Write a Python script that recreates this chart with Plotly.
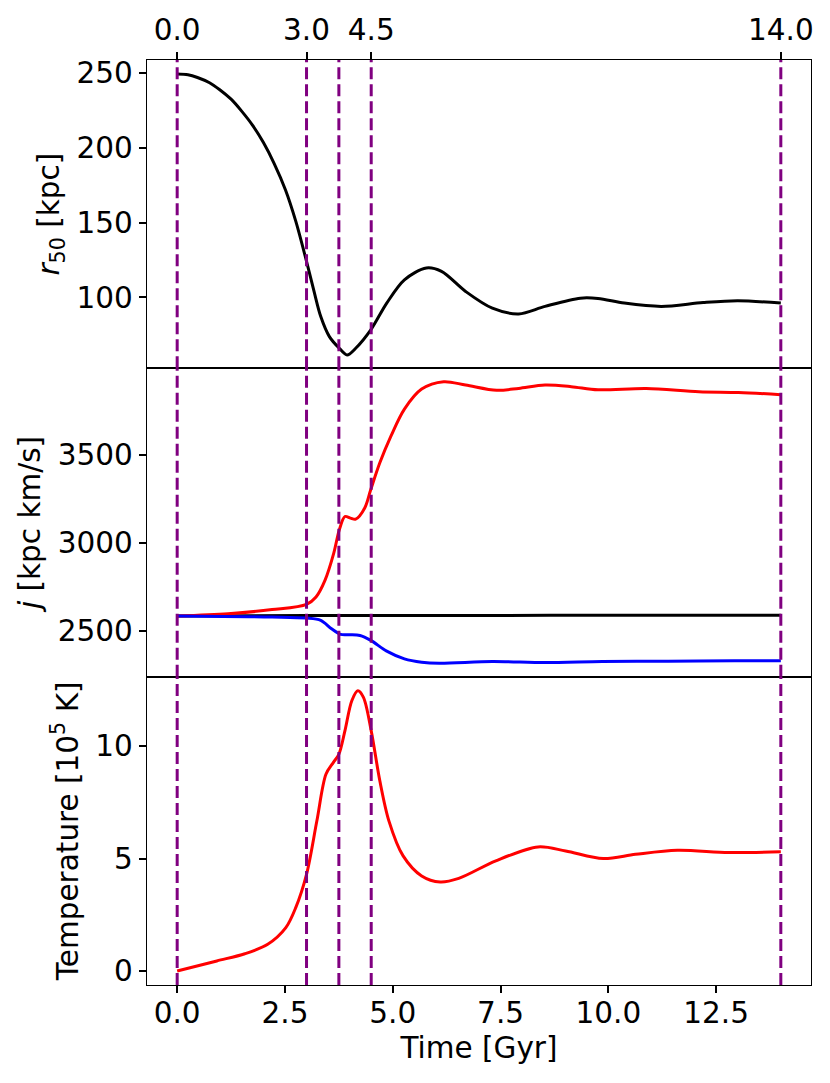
import plotly.graph_objects as go
from plotly.subplots import make_subplots

# r50 vs time
r50_time = [0.0, 0.25, 0.47, 0.75, 0.98, 1.25, 1.49, 1.75, 2.0, 2.25, 2.51, 2.75, 3.0, 3.17,
            3.33, 3.53, 3.76, 3.94, 4.14, 4.49, 4.86, 5.27, 5.78, 6.13, 6.69, 7.31, 7.92,
            8.53, 9.35, 9.76, 10.37, 11.23, 12.2, 13.0, 14.0]
r50_kpc = [249.3, 248.8, 247.0, 243.5, 239.0, 232.5, 224.7, 215.0, 203.5, 189.5, 172.0, 151.0,
           124.1, 104.5, 87.2, 73.8, 66.0, 61.5, 66.0, 78.3, 96.2, 111.8, 119.7, 117.4, 104.0,
           92.8, 89.0, 94.0, 99.5, 99.3, 96.2, 94.0, 96.6, 97.8, 96.2]

# specific angular momentum (middle panel)
j_black_time = [0.0, 3.0, 7.0, 10.5, 14.0]
j_black = [2586, 2588, 2589, 2590, 2590]

j_red_time = [0.0, 1.18, 2.2, 3.0, 3.22, 3.43, 3.63, 3.76, 3.89, 4.02, 4.14, 4.35, 4.49,
              4.7, 4.96, 5.27, 5.67, 6.18, 6.69, 7.41, 7.92, 8.53, 9.14, 9.76, 10.88,
              12.1, 13.02, 14.0]
j_red = [2586, 2599, 2622, 2652, 2694, 2790, 2942, 3075, 3151, 3142, 3136, 3199, 3304,
         3456, 3609, 3761, 3875, 3917, 3898, 3868, 3879, 3898, 3889, 3871, 3879,
         3860, 3856, 3843]

j_blue_time = [0.0, 2.2, 3.0, 3.33, 3.58, 3.79, 3.99, 4.24, 4.49, 4.86, 5.27, 5.67, 6.08,
               7.31, 8.53, 9.86, 11.39, 12.92, 14.0]
j_blue = [2586, 2580, 2574, 2561, 2513, 2481, 2479, 2475, 2447, 2386, 2342, 2323, 2317,
          2327, 2321, 2327, 2329, 2332, 2332]

# temperature in 1e5 K (bottom panel)
temp_time = [0.0, 0.92, 1.57, 2.1, 2.52, 2.75, 3.0, 3.24, 3.45, 3.62, 3.75, 3.89, 4.05,
             4.19, 4.32, 4.5, 4.7, 4.91, 5.24, 5.67, 6.1, 6.53, 7.39, 8.37, 9.01, 9.88,
             10.63, 11.6, 12.79, 14.0]
temp_1e5 = [0.0, 0.45, 0.77, 1.19, 1.93, 2.82, 4.30, 6.68, 8.75, 9.27, 9.64, 10.68, 12.02,
            12.46, 12.17, 10.68, 8.46, 6.68, 5.12, 4.23, 3.96, 4.12, 4.9, 5.52, 5.34, 5.0,
            5.19, 5.37, 5.27, 5.30]

# marked epochs
epoch_times = [0.0, 3.0, 3.75, 4.5, 14.0]
top_tick_vals = [0.0, 3.0, 4.5, 14.0]
top_tick_text = ["0.0", "3.0", "4.5", "14.0"]

FONT = "DejaVu Sans"
FS = 29.5

fig = make_subplots(rows=3, cols=1, shared_xaxes=True, vertical_spacing=0)

def curve(x, y, color):
    return go.Scatter(x=x, y=y, mode="lines", line=dict(color=color, width=3, shape="spline", smoothing=0.9),
                      showlegend=False)

fig.add_trace(curve(r50_time, r50_kpc, "black"), row=1, col=1)
fig.add_trace(curve(j_black_time, j_black, "black"), row=2, col=1)
fig.add_trace(curve(j_red_time, j_red, "red"), row=2, col=1)
fig.add_trace(curve(j_blue_time, j_blue, "blue"), row=2, col=1)
fig.add_trace(curve(temp_time, temp_1e5, "red"), row=3, col=1)

# dashed epoch lines across all panels
for t in epoch_times:
    fig.add_vline(x=t, line=dict(color="purple", width=3, dash="12px,5px"), row="all", col=1)

# top axis showing epoch ticks
fig.add_trace(go.Scatter(x=top_tick_vals, y=[150] * len(top_tick_vals), mode="markers",
                         marker=dict(opacity=0), xaxis="x4", yaxis="y", showlegend=False,
                         hoverinfo="skip"))

axis_common = dict(showline=True, mirror=True, linecolor="black", linewidth=1.4,
                   showgrid=False, zeroline=False, ticks="outside", ticklen=7, tickwidth=1.5,
                   tickcolor="black", automargin=False,
                   tickfont=dict(family=FONT, size=FS, color="black"))

xrange = [-0.7, 14.7]
fig.update_xaxes(range=xrange, **axis_common)
fig.update_xaxes(ticks="", row=1, col=1)
fig.update_xaxes(ticks="", row=2, col=1)
fig.update_xaxes(dtick=2.5, tick0=0, tickformat=".1f", ticklabelstandoff=-6, row=3, col=1,
                 title=dict(text="Time [Gyr]", font=dict(family=FONT, size=FS, color="black"), standoff=8))

ytitle_font = dict(family=FONT, size=FS, color="black")
fig.update_yaxes(**axis_common)
fig.update_yaxes(range=[52.6, 258.7], dtick=50, row=1, col=1,
                 title=dict(text="<i>r</i><sub>50</sub> [kpc]", font=ytitle_font, standoff=8))
fig.update_yaxes(range=[2241, 3993], dtick=500, row=2, col=1,
                 title=dict(text="<i>j</i> [kpc km/s]", font=ytitle_font, standoff=8))
fig.update_yaxes(range=[-0.62, 13.09], dtick=5, row=3, col=1,
                 title=dict(text="Temperature [10<sup>5</sup> K]", font=ytitle_font, standoff=8))

# page body adds an 8px offset, so the figure is a little smaller than the window
fig.update_layout(
    width=822, height=1075,
    margin=dict(l=139, r=19, t=52, b=98),
    plot_bgcolor="white", paper_bgcolor="white",
    font=dict(family=FONT, size=FS, color="black"),
    xaxis4=dict(overlaying="x", anchor="y", side="top", range=xrange,
                tickvals=top_tick_vals, ticktext=top_tick_text, automargin=False,
                showgrid=False, zeroline=False, showline=False,
                ticks="outside", ticklen=7, tickwidth=1.5, tickcolor="black",
                tickfont=dict(family=FONT, size=FS, color="black")),
)

fig.write_html("out.html")
